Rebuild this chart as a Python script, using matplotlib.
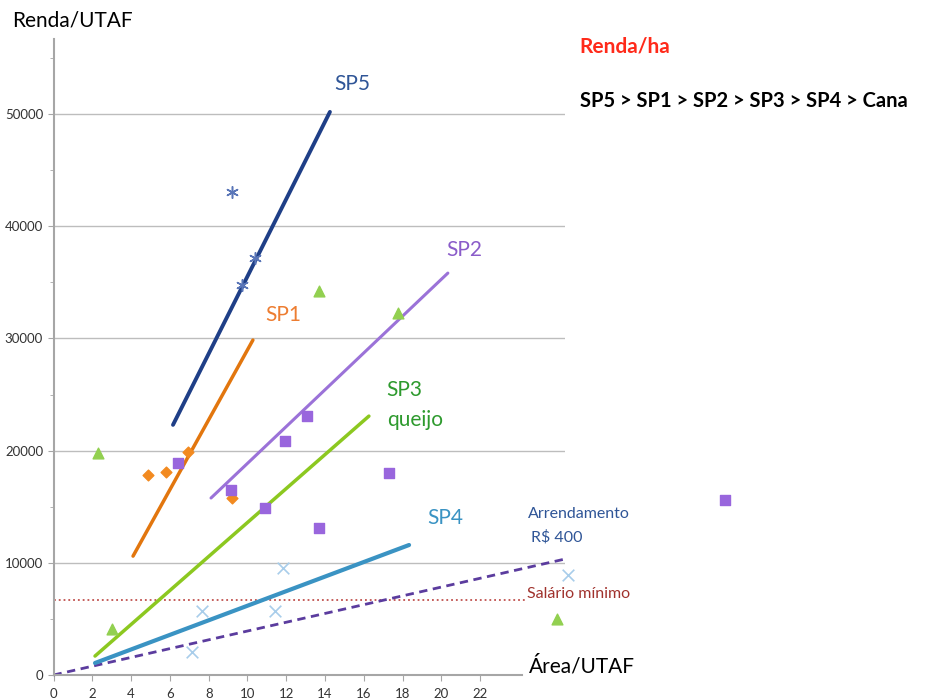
import numpy as np
import matplotlib.pyplot as plt
from matplotlib.ticker import MultipleLocator

plt.rcParams['font.family'] = ['Lato', 'DejaVu Sans']

# pontos observados (Área/UTAF, Renda/UTAF)
sp1_x = [4.86, 5.8, 6.95, 9.18]
sp1_y = [17800, 18100, 19900, 15750]
sp2_x = [6.4, 9.13, 10.9, 11.93, 13.08, 13.7, 17.3, 34.6]
sp2_y = [18870, 16490, 14860, 20870, 23130, 13070, 18050, 15600]
sp3_x = [2.28, 3.0, 13.69, 17.76, 25.95]
sp3_y = [19780, 4070, 34220, 32300, 4990]
sp4_x = [7.12, 7.64, 11.42, 11.85, 26.5]
sp4_y = [2080, 5730, 5730, 9560, 8910]
sp5_x = [9.18, 9.7, 10.39]
sp5_y = [43100, 34750, 37150]

# retas de tendência
sp5_lx, sp5_ly = [6.16, 14.25], [22300, 50200]
sp1_lx, sp1_ly = [4.1, 10.28], [10600, 29860]
sp2_lx, sp2_ly = [8.12, 20.33], [15780, 35830]
sp3_lx, sp3_ly = [2.14, 16.26], [1690, 23080]
sp4_lx, sp4_ly = [2.14, 18.33], [1070, 11590]
arr_x, arr_y = [0, 26.37], [0, 10340]
sal_x, sal_y = [0, 24.3], [6680, 6680]

fig = plt.figure(figsize=(9.29, 7.0), dpi=100)
ax = fig.add_axes([0.0576, 0.0357, 0.5506, 0.9086])
ax.set_xlim(0, 26.37)
ax.set_ylim(0, 56700)

# grade horizontal
for g in [10000, 20000, 30000, 40000, 50000]:
    ax.axhline(g, color='#bdbdbd', linewidth=1, zorder=0)

# linhas
ax.plot(sal_x, sal_y, color='#c0504d', linestyle=':', linewidth=1.3, clip_on=False)
ax.plot(arr_x, arr_y, color='#5b3c9e', linestyle='--', linewidth=2, dashes=(3, 2), clip_on=False)
ax.plot(sp4_lx, sp4_ly, color='#3a93c3', linewidth=3, solid_capstyle='round')
ax.plot(sp3_lx, sp3_ly, color='#8cc820', linewidth=2.5, solid_capstyle='round')
ax.plot(sp2_lx, sp2_ly, color='#9b72d8', linewidth=2.2, solid_capstyle='round')
ax.plot(sp1_lx, sp1_ly, color='#e2760e', linewidth=2.5, solid_capstyle='round')
ax.plot(sp5_lx, sp5_ly, color='#1f3f87', linewidth=2.8, solid_capstyle='round')

# pontos
ax.scatter(sp1_x, sp1_y, marker='D', s=30, color='#f28a20', zorder=3, clip_on=False)
ax.scatter(sp2_x, sp2_y, marker='s', s=55, color='#9966dd', zorder=3, clip_on=False)
ax.scatter(sp3_x, sp3_y, marker='^', s=60, color='#92d050', zorder=3, clip_on=False)
ax.scatter(sp4_x, sp4_y, marker='x', s=70, color='#a8cdea', linewidths=1.2, zorder=3, clip_on=False)
ax.scatter(sp5_x, sp5_y, marker=(6, 2, 0), s=70, color='#5a76b8', linewidths=1.1, zorder=3, clip_on=False)

# eixos
for s in ['top', 'right']:
    ax.spines[s].set_visible(False)
ax.spines['left'].set_color('#a6a6a6')
ax.spines['left'].set_linewidth(1.5)
ax.spines['bottom'].set_color('#a6a6a6')
ax.spines['bottom'].set_linewidth(1.5)
ax.spines['bottom'].set_bounds(0, 24.15)

ax.set_xticks(np.arange(0, 23, 2))
ax.yaxis.set_major_locator(MultipleLocator(10000))
ax.yaxis.set_minor_locator(MultipleLocator(5000))
ax.set_yticks([0, 10000, 20000, 30000, 40000, 50000])
ax.tick_params(axis='both', colors='#a6a6a6', labelcolor='#333333', labelsize=9.5, length=4, direction='out')
ax.tick_params(axis='x', pad=5)
ax.tick_params(axis='y', which='minor', colors='#a6a6a6', length=3)

# rótulos das séries
ax.text(15.39, 52670, 'SP5', color='#2f5597', fontsize=15, ha='center', va='center')
ax.text(11.83, 32090, 'SP1', color='#ed7d31', fontsize=15, ha='center', va='center')
ax.text(21.2, 37880, 'SP2', color='#8a5cc9', fontsize=15, ha='center', va='center')
ax.text(17.18, 25400, 'SP3', color='#2e9a2e', fontsize=15, ha='left', va='center')
ax.text(17.18, 22730, 'queijo', color='#2e9a2e', fontsize=15, ha='left', va='center')
ax.text(20.18, 13990, 'SP4', color='#3a93c3', fontsize=15, ha='center', va='center')
ax.text(24.46, 14350, 'Arrendamento', color='#2f5597', fontsize=11.5, ha='left', va='center', clip_on=False)
ax.text(24.6, 12300, 'R$ 400', color='#2f5597', fontsize=11.5, ha='left', va='center', clip_on=False)
ax.text(24.4, 7220, 'Salário mínimo', color='#a0322d', fontsize=11.5, ha='left', va='center', clip_on=False)

# títulos dos eixos e notas
fig.text(0.0129, 0.971, 'Renda/UTAF', fontsize=15, ha='left', va='center')
fig.text(0.569, 0.0486, 'Área/UTAF', fontsize=15, ha='left', va='center')
fig.text(0.624, 0.934, 'Renda/ha', fontsize=15, color='#ff2a1a', fontweight='bold', ha='left', va='center')
fig.text(0.624, 0.856, 'SP5 > SP1 > SP2 > SP3 > SP4 > Cana', fontsize=14.5, fontweight='bold', ha='left', va='center')

fig.savefig('out.png', dpi=100)
